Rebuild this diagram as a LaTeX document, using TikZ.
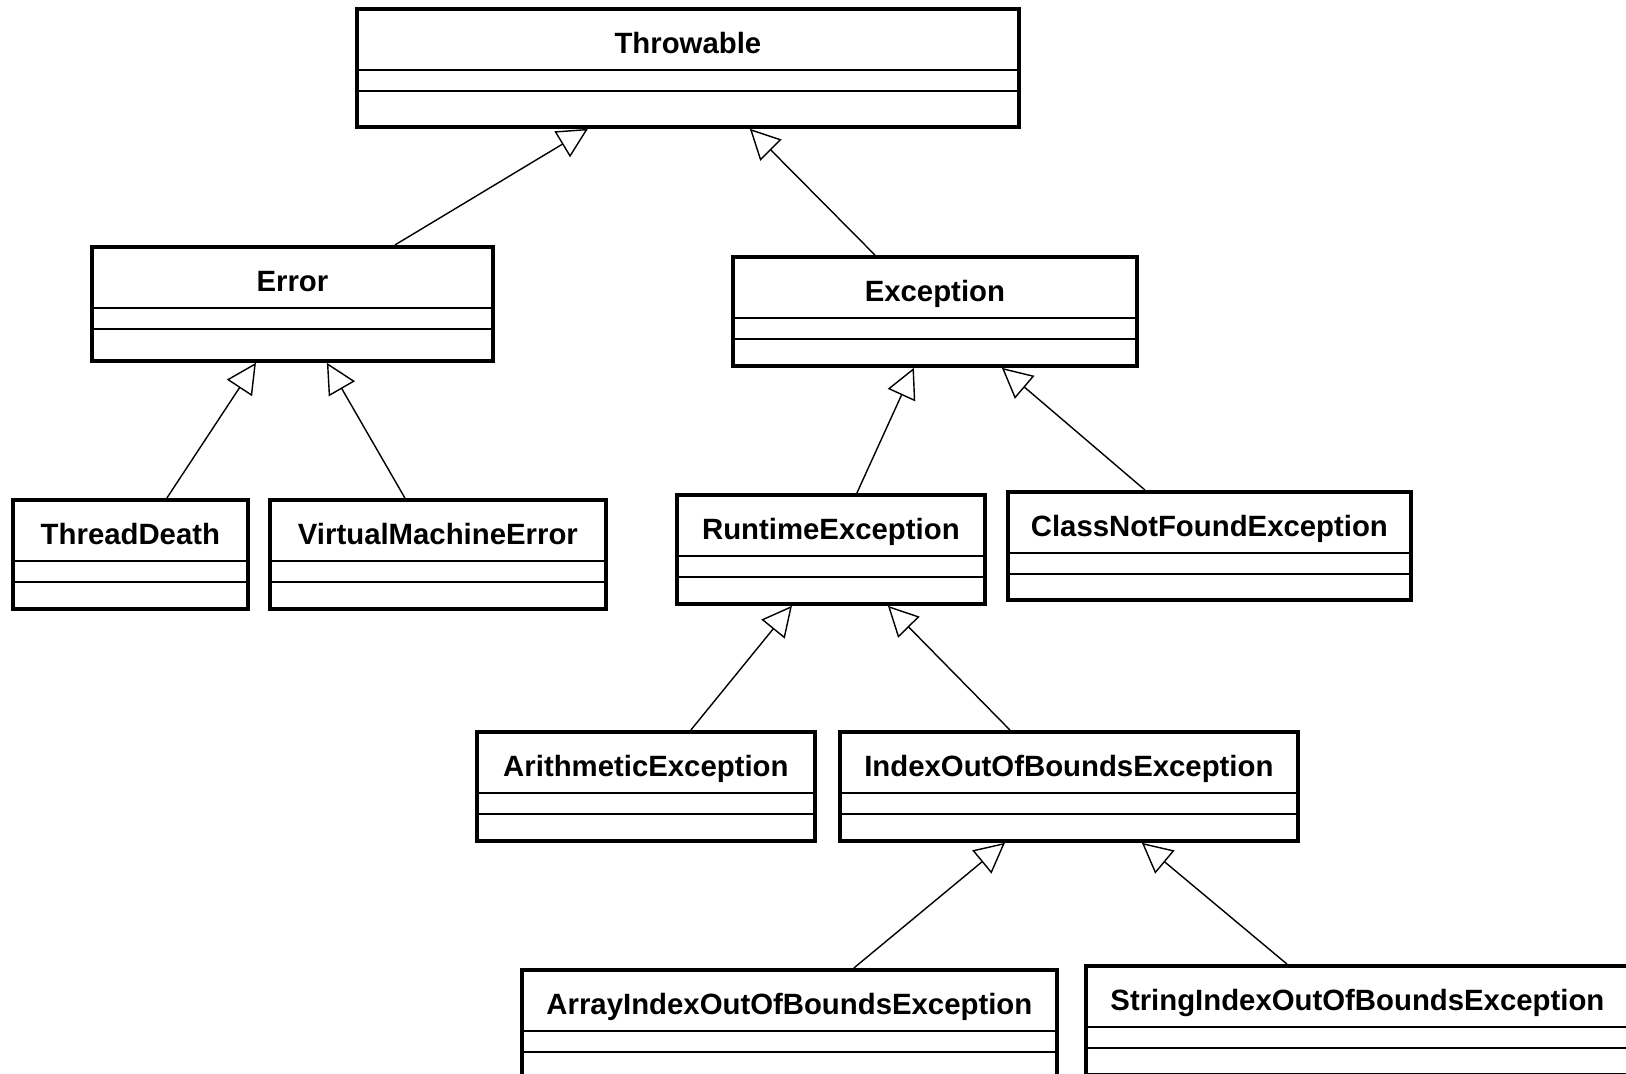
\documentclass[tikz,border=0pt]{standalone}
\usepackage{fontspec}
\setmainfont{Liberation Sans}
\usetikzlibrary{arrows.meta}

\tikzset{
  cls/.style={draw, line width=2.2pt, anchor=north west, inner sep=0pt,
    text height=0.9cm, text depth=1.28cm,
    font=\bfseries\fontsize{16.7}{20}\selectfont,
    path picture={
      \draw[line width=1.1pt]
        ([yshift=-1.22cm]path picture bounding box.north west) -- ([yshift=-1.22cm]path picture bounding box.north east)
        ([yshift=-1.64cm]path picture bounding box.north west) -- ([yshift=-1.64cm]path picture bounding box.north east);
    }},
  inh/.style={draw, line width=0.8pt, -{Triangle[open, length=0.6cm, width=0.6cm]}}
}

\begin{document}
\begin{tikzpicture}[x=0.02cm, y=-0.02cm]
\useasboundingbox (1,2) rectangle (1627,1076);
\clip (1,2) rectangle (1627,1076);

\node[cls, minimum width=13.24cm, text depth=1.46cm](thr) at (356,9) {Throwable};
\node[cls, minimum width=8.02cm, text depth=1.38cm](err) at (91,247) {Error};
\node[cls, minimum width=8.08cm](exc) at (732,257) {Exception};
\node[cls, minimum width=4.70cm](td) at (12,500) {ThreadDeath};
\node[cls, minimum width=6.72cm](vme) at (269,500) {VirtualMachineError};
\node[cls, minimum width=6.16cm](rte) at (676,495) {RuntimeException};
\node[cls, minimum width=8.06cm, text depth=1.26cm](cnf) at (1007,492) {ClassNotFoundException};
\node[cls, minimum width=6.76cm](ari) at (476,732) {ArithmeticException};
\node[cls, minimum width=9.16cm](ioob) at (839,732) {IndexOutOfBoundsException};
\node[cls, minimum width=10.70cm](aioob) at (521,970) {ArrayIndexOutOfBoundsException};
\node[cls, minimum width=10.86cm](sioob) at (1085,966) {StringIndexOutOfBoundsException};

\draw[inh] ([xshift=2.05cm]err.north) -- ([xshift=-2.0cm]thr.south);
\draw[inh] ([xshift=-1.2cm]exc.north) -- ([xshift=1.24cm]thr.south);
\draw[inh] ([xshift=0.73cm]td.north) -- ([xshift=-0.73cm]err.south);
\draw[inh] ([xshift=-0.66cm]vme.north) -- ([xshift=0.69cm]err.south);
\draw[inh] ([xshift=0.52cm]rte.north) -- ([xshift=-0.42cm]exc.south);
\draw[inh] ([xshift=-1.29cm]cnf.north) -- ([xshift=1.34cm]exc.south);
\draw[inh] ([xshift=0.9cm]ari.north) -- ([xshift=-0.78cm]rte.south);
\draw[inh] ([xshift=-1.18cm]ioob.north) -- ([xshift=1.14cm]rte.south);
\draw[inh] ([xshift=1.29cm]aioob.north) -- ([xshift=-1.28cm]ioob.south);
\draw[inh] ([xshift=-1.41cm]sioob.north) -- ([xshift=1.46cm]ioob.south);
\end{tikzpicture}
\end{document}
